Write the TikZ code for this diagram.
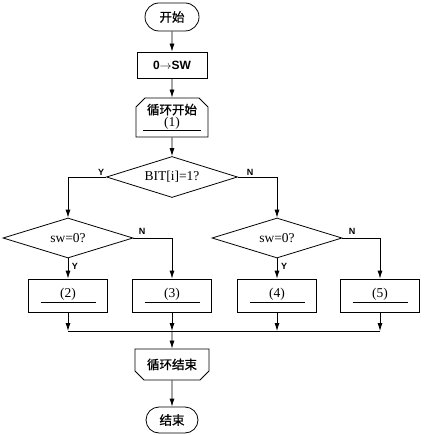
\documentclass[tikz,border=0pt]{standalone}
\usepackage{fontspec}
\setmainfont{Liberation Serif}
\setsansfont{Liberation Sans}
\newfontfamily\cjk{Noto Sans CJK SC}[FakeBold=1]
\usepackage{tikz}
\usetikzlibrary{arrows.meta,shapes.geometric,shapes.misc}

\begin{document}
\begin{tikzpicture}[x=1pt, y=-1pt, ->, >= {Latex[length=8pt,width=5pt]}, line width=0.8pt, font=\fontsize{13.5}{15}\selectfont]
\tikzstyle{term}=[draw, rounded rectangle, minimum height=28pt, inner sep=2pt, font=\fontsize{12.5}{14}\selectfont\cjk]
\tikzstyle{proc}=[draw, rectangle, minimum width=79pt, minimum height=33pt, inner sep=0pt]
\tikzstyle{cond}=[draw, diamond, aspect=3.2, minimum width=130pt, minimum height=40pt, inner sep=0pt]
\tikzstyle{loopbox}=[draw, chamfered rectangle, chamfered rectangle xsep=6pt, chamfered rectangle angle=45, minimum width=70pt, inner sep=1pt, align=center, font=\fontsize{12.5}{14}\selectfont\cjk]
\tikzstyle{lbl}=[font=\fontsize{9}{10}\selectfont\sffamily\bfseries]
\newcommand{\blank}[1]{\underline{\makebox[55pt]{\rmfamily(#1)}}}

\useasboundingbox (0,0) rectangle (424,435);

\node[term, minimum width=58pt]		(start)		at (172,17)	{开始};
\node[draw, minimum width=70pt, minimum height=26pt, font=\fontsize{12}{14}\selectfont]	(init)	at (172,65)	{\sffamily\bfseries 0$\mathbf{\rightarrow}$SW};
\node[loopbox, chamfered rectangle corners={north west,north east}, minimum height=39pt]	(loopS)	at (172,117.5)	{循环开始\\[-2pt]\underline{\makebox[58pt]{\rmfamily\fontsize{13.5}{15}\selectfont(1)}}};
\node[cond, minimum width=131pt, minimum height=41pt]	(bit)	at (172,177)	{BIT[i]=1?};
\node[cond]		(sw1)	at (68,238)	{sw=0?};
\node[cond]		(sw2)	at (277,238)	{sw=0?};
\node[proc]		(b2)	at (68,295.5)	{\blank{2}};
\node[proc]		(b3)	at (172,295.5)	{\blank{3}};
\node[proc]		(b4)	at (277,295.5)	{\blank{4}};
\node[proc]		(b5)	at (380,295.5)	{\blank{5}};
\node[loopbox, chamfered rectangle corners={south west,south east}, minimum width=74pt, minimum height=31pt]	(loopE)	at (172,364.5)	{循环结束};
\node[term, minimum width=56pt, minimum height=26pt]	(stop)	at (172,420)	{结束};

\coordinate (m2) at (68,331);
\coordinate (m3) at (172,331);
\coordinate (m4) at (277,331);
\coordinate (m5) at (380,331);

\path
	(start)		edge	(init)
	(init)		edge	(loopS)
	(loopS)		edge	(bit)
	(b2)		edge	(m2)
	(b3)		edge	(m3)
	(b4)		edge	(m4)
	(b5)		edge	(m5)
	(m3)		edge	(loopE)
	(loopE)		edge	(stop)
;

\draw (bit.west) -| (sw1.north);
\draw (bit.east) -| (sw2.north);
\draw (sw1.east) -| (b3.north);
\draw (sw2.east) -| (b5.north);
\draw (sw1.south) -- (b2.north);
\draw (sw2.south) -- (b4.north);
\draw[-] (m2) -- (m5);

\node[lbl]	(y1)	at (101,172)	{Y};
\node[lbl]	(n1)	at (250,172)	{N};
\node[lbl]	(n2)	at (142,231)	{N};
\node[lbl]	(n3)	at (352,231)	{N};
\node[lbl]	(y2)	at (75,266)	{Y};
\node[lbl]	(y3)	at (284,266)	{Y};

\end{tikzpicture}
\end{document}
